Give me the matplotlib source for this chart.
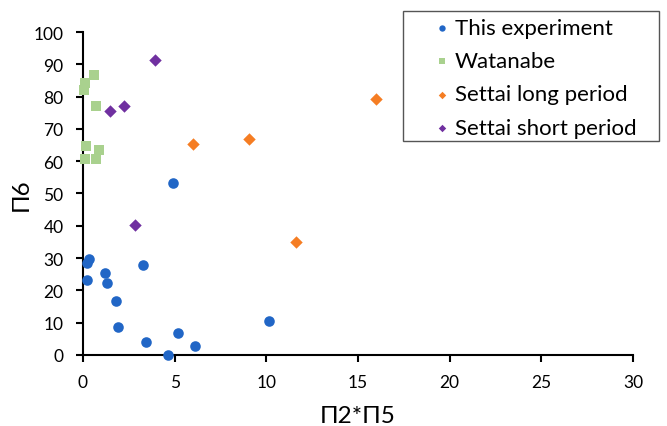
import matplotlib
matplotlib.use("Agg")
import matplotlib.pyplot as plt
from matplotlib.patches import Rectangle

plt.rcParams['font.family'] = ['Lato', 'DejaVu Sans']

exp_x = [0.34, 0.24, 0.24, 1.20, 1.29, 3.26, 1.78, 1.89, 3.45, 4.66, 5.18, 6.11, 10.15, 4.91]
exp_y = [29.8, 28.5, 23.3, 25.5, 22.2, 28.0, 16.6, 8.7, 4.0, 0.1, 6.8, 2.8, 10.4, 53.3]

wat_x = [0.58, 0.11, 0.07, 0.73, 0.15, 0.87, 0.11, 0.69]
wat_y = [86.6, 84.1, 82.0, 77.0, 64.8, 63.5, 60.6, 60.6]

long_x = [6.0, 9.06, 16.0, 11.62]
long_y = [65.3, 67.0, 79.2, 34.9]

short_x = [3.93, 1.47, 2.24, 2.86]
short_y = [91.2, 75.4, 77.2, 40.1]

xticks = [0, 5, 10, 15, 20, 25, 30]
yticks = [0, 10, 20, 30, 40, 50, 60, 70, 80, 90, 100]

W, H = 667, 427
fig = plt.figure(figsize=(6.67, 4.27), dpi=100)
ax = fig.add_axes([0.1244, 0.1663, 0.949 - 0.1244, 0.9227 - 0.1663])

ax.scatter(exp_x, exp_y, marker='o', s=58, color='#2166C6', label='This experiment', zorder=3, linewidths=0, clip_on=False)
ax.scatter(wat_x, wat_y, marker='s', s=58, color='#A9D18E', label='Watanabe', zorder=3, linewidths=0, clip_on=False)
ax.scatter(long_x, long_y, marker='D', s=40, color='#F57D23', label='Settai long period', zorder=3, linewidths=0, clip_on=False)
ax.scatter(short_x, short_y, marker='D', s=40, color='#7030A0', label='Settai short period', zorder=3, linewidths=0, clip_on=False)

ax.set_xlim(0, 30)
ax.set_ylim(0, 100)
ax.set_xticks(xticks)
ax.set_yticks(yticks)
ax.spines['top'].set_visible(False)
ax.spines['right'].set_visible(False)
for s in ['left', 'bottom']:
    ax.spines[s].set_linewidth(1.5)
    ax.spines[s].set_color('black')
ax.tick_params(axis='both', labelsize=12.5, width=1.5, length=5, direction='out', colors='black')
ax.tick_params(axis='x', pad=9)
ax.tick_params(axis='y', pad=9)

ax.set_xlabel('Π2*Π5', fontsize=17.5, labelpad=10.5)
ax.set_ylabel('Π6', fontsize=17.5, labelpad=1)

# legend frame box
fig.patches.append(Rectangle((403 / W, 1 - 142 / H), (659 - 403) / W, (142 - 12) / H,
                             transform=fig.transFigure, facecolor='white',
                             edgecolor='#555555', linewidth=1.0, zorder=5))

leg = fig.legend(loc='upper left', bbox_to_anchor=(426 / W, 1 - 12 / H), fontsize=16,
                 frameon=False, markerscale=0.6,
                 handletextpad=0.19, borderpad=0.3, labelspacing=0.6, handlelength=0.8,
                 borderaxespad=0)
leg.set_zorder(6)

fig.savefig('out.png', dpi=100)
